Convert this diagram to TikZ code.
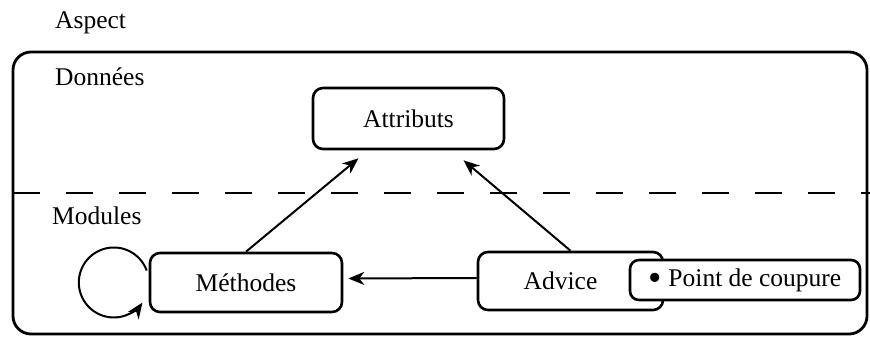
\documentclass[tikz,border=0pt]{standalone}
\usepackage{fontspec}
\setmainfont{Liberation Serif}
\usetikzlibrary{arrows.meta}
\begin{document}
\begin{tikzpicture}[x=1pt,y=-1pt,
  every node/.style={font=\fontsize{25.5}{28}\selectfont},
  box/.style={draw, line width=2.6pt, rounded corners=10pt, fill=white, inner sep=0pt},
  arr/.style={line width=2pt, -{Stealth[length=16pt,width=13pt,inset=5pt]}},
  title/.style={anchor=base west, inner sep=0pt}]
\useasboundingbox (0,0) rectangle (870,338);

% outer aspect frame and the data / modules separator
\draw[line width=2.8pt, rounded corners=18pt] (13,52) rectangle (867,334);
\draw[line width=2.6pt, dash pattern=on 27pt off 26pt] (13,193) -- (870,193);

% headings
\node[title] (aspect) at (55,28) {Aspect};
\node[title] (donnees) at (55,85) {Données};
\node[title] (modules) at (52,224) {Modules};

% components
\node[box, minimum width=191pt, minimum height=61pt] (attr) at (408.5,118.5) {Attributs};
\node[box, minimum width=192pt, minimum height=59pt] (meth) at (246,282.5) {Méthodes};
\node[box, minimum width=185pt, minimum height=58pt] (adv) at (570.5,281) {Advice\hspace*{20pt}};
\node[box, minimum width=230pt, minimum height=40pt, rounded corners=9pt] (pc) at (745,280)
  {\raisebox{-0.17em}{\scalebox{1.5}{•}}\hspace{0.25em}Point de coupure};

% connectors
\draw[arr] (meth.north) -- ([xshift=-50pt,yshift=-8pt]attr.south);
\draw[arr] (adv.north) -- ([xshift=55pt,yshift=-10pt]attr.south);
\draw[arr, shorten >=5pt] ([yshift=3pt]adv.west) -- ([yshift=4pt]meth.east);
\draw[arr] ([xshift=-2pt,yshift=12pt]meth.west) arc[start angle=-20, end angle=-325, radius=35];
\end{tikzpicture}
\end{document}
